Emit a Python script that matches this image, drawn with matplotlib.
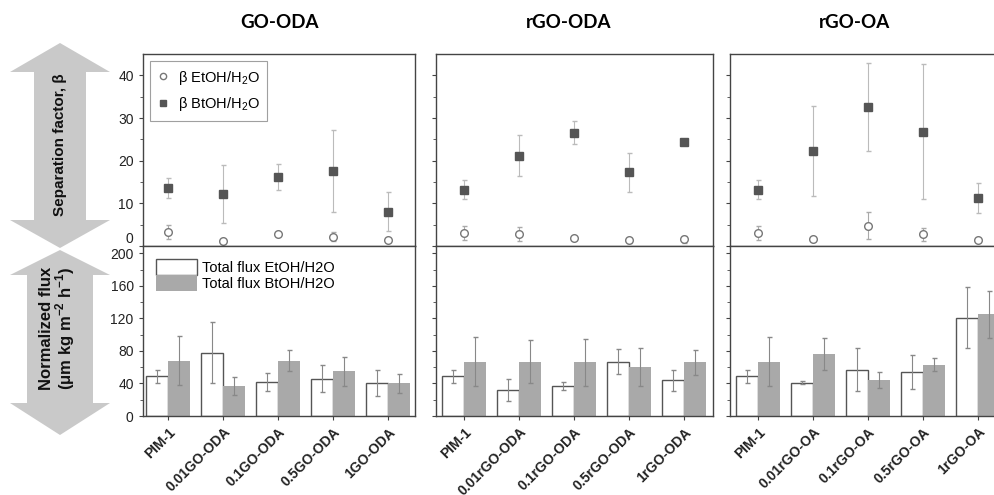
import numpy as np
import matplotlib.pyplot as plt
from matplotlib.patches import Polygon
from matplotlib.lines import Line2D

plt.rcParams['font.family'] = ['Liberation Sans', 'DejaVu Sans']
plt.rcParams['mathtext.fontset'] = 'custom'
plt.rcParams['mathtext.rm'] = 'Liberation Sans'
plt.rcParams['mathtext.bf'] = 'Liberation Sans:bold'

# Daten
titel = ['GO-ODA', 'rGO-ODA', 'rGO-OA']
proben = [['PIM-1', '0.01GO-ODA', '0.1GO-ODA', '0.5GO-ODA', '1GO-ODA'],
          ['PIM-1', '0.01rGO-ODA', '0.1rGO-ODA', '0.5rGO-ODA', '1rGO-ODA'],
          ['PIM-1', '0.01rGO-OA', '0.1rGO-OA', '0.5rGO-OA', '1rGO-OA']]

# Trennfaktor beta
beta_et = [[3.3, 1.2, 2.9, 2.2, 1.4], [3.0, 2.8, 1.9, 1.3, 1.6], [3.0, 1.6, 4.8, 2.7, 1.3]]
beta_et_err = [[1.6, 0.3, 0.4, 1.1, 0.4], [1.6, 1.6, 0.3, 0.6, 0.8], [1.6, 0.5, 3.2, 1.6, 0.3]]
beta_bt = [[13.6, 12.3, 16.2, 17.6, 8.0], [13.2, 21.2, 26.6, 17.3, 24.4], [13.2, 22.3, 32.6, 26.8, 11.3]]
beta_bt_err = [[2.3, 6.8, 3.0, 9.6, 4.6], [2.3, 4.8, 2.7, 4.6, 0.3], [2.3, 10.5, 10.3, 15.8, 3.5]]

# normierter Fluss
fluss_et = [[49, 78, 42, 46, 40], [49, 32, 37, 67, 44], [49, 41, 57, 54, 121]]
fluss_et_err = [[8, 38, 11, 17, 16], [8, 13, 5, 15, 13], [8, 2, 26, 21, 37]]
fluss_bt = [[68, 37, 68, 55, 40], [67, 67, 66, 60, 66], [67, 76, 44, 63, 125]]
fluss_bt_err = [[30, 11, 13, 18, 12], [30, 27, 29, 23, 15], [30, 20, 10, 8, 29]]

W, H = 995, 495
fig = plt.figure(figsize=(W / 100, H / 100), dpi=100)

# Pfeile links (in Pixelkoordinaten)
bg = fig.add_axes([0, 0, 1, 1], zorder=-1)
bg.set_xlim(0, W)
bg.set_ylim(H, 0)
bg.axis('off')
pfeil1 = [(60, 43), (10, 72), (34, 72), (34, 220), (10, 220), (60, 248),
          (110, 220), (86, 220), (86, 72), (110, 72)]
pfeil2 = [(60, 250), (10, 275), (27, 275), (27, 403), (10, 403), (60, 435),
          (110, 403), (93, 403), (93, 275), (110, 275)]
for p in (pfeil1, pfeil2):
    bg.add_patch(Polygon(p, closed=True, fc='#c9c9c9', ec='none'))
bg.text(60, 145, 'Separation factor, β', rotation=90, ha='center', va='center',
        fontsize=11, fontweight='bold', color='#111111')
bg.text(58, 328, 'Normalized flux\n(μm kg m$^{\\mathbf{-2}}$ h$^{\\mathbf{-1}}$)', rotation=90,
        ha='center', va='center', fontsize=12, fontweight='bold', color='#111111',
        linespacing=1.0)

links = [142.7, 436, 730]
breite = [272.3, 276.7, 275]
xlims = [(-0.46, 4.49), (-0.51, 4.52), (-0.51, 4.49)]
titel_x = [280, 569, 855]

x = np.arange(5)
kante = '#444444'

for i in range(3):
    ax_o = fig.add_axes([links[i] / W, (H - 246) / H, breite[i] / W, 192 / H])
    ax_u = fig.add_axes([links[i] / W, (H - 416) / H, breite[i] / W, 170 / H])

    # oben: Trennfaktor
    ax_o.errorbar(x, beta_et[i], yerr=beta_et_err[i], fmt='o', ms=5.5, mfc='white',
                  mec='#777777', mew=1.0, ecolor='#aaaaaa', elinewidth=0.8, capsize=1.8)
    ax_o.errorbar(x, beta_bt[i], yerr=beta_bt_err[i], fmt='s', ms=6, mfc='#555555',
                  mec='#555555', ecolor='#bbbbbb', elinewidth=0.8, capsize=1.8)
    ax_o.set_ylim(0, 45)
    ax_o.set_xlim(*xlims[i])
    ax_o.set_xticks([])
    ax_o.set_yticks([0, 10, 20, 30, 40])
    ax_o.set_yticks([5, 15, 25, 35], minor=True)

    # unten: Fluss
    ax_u.bar(x - 0.2, fluss_et[i], width=0.4, color='white', edgecolor='#555555', lw=1.0,
             label='Total flux EtOH/H2O')
    ax_u.bar(x + 0.2, fluss_bt[i], width=0.4, color='#a9a9a9', edgecolor='none',
             label='Total flux BtOH/H2O')
    ax_u.errorbar(x - 0.2, fluss_et[i], yerr=fluss_et_err[i], fmt='none', ecolor='#888888',
                  elinewidth=0.8, capsize=1.8)
    ax_u.errorbar(x + 0.2, fluss_bt[i], yerr=fluss_bt_err[i], fmt='none', ecolor='#888888',
                  elinewidth=0.8, capsize=1.8)
    ax_u.set_ylim(0, 209)
    ax_u.set_xlim(*xlims[i])
    ax_u.set_yticks([0, 40, 80, 120, 160, 200])
    ax_u.set_yticks([20, 60, 100, 140, 180], minor=True)
    ax_u.set_xticks(x)
    ax_u.set_xticklabels(proben[i], rotation=45, ha='right', rotation_mode='anchor',
                         fontsize=9.5, fontweight='bold')

    for ax in (ax_o, ax_u):
        for s in ax.spines.values():
            s.set_color(kante)
            s.set_linewidth(1.0)
        ax.tick_params(direction='out', length=3, width=0.8, color=kante, labelsize=10,
                       labelcolor='#222222')
        ax.tick_params(which='minor', direction='out', length=2, width=0.6, color=kante)
        if i > 0:
            ax.set_yticklabels([])

    if i == 0:
        ax_o.get_yticklabels()[0].set_verticalalignment('bottom')
        handles = [Line2D([], [], ls='none', marker='o', ms=4.5, mfc='white', mec='#777777'),
                   Line2D([], [], ls='none', marker='s', ms=4.5, mfc='#555555', mec='#555555')]
        leg = ax_o.legend(handles, ['β EtOH/H$_2$O', 'β BtOH/H$_2$O'], loc='upper left',
                          fontsize=10.5, handlelength=0.8, handletextpad=0.6, borderpad=0.5,
                          labelspacing=0.6, fancybox=False, edgecolor='#888888',
                          bbox_to_anchor=(0.0, 1.0))
        leg.get_frame().set_linewidth(0.8)
        ax_u.legend(loc='upper left', fontsize=10.5, frameon=False, handlelength=2.8,
                    handleheight=1.25, handletextpad=0.4, labelspacing=0.05,
                    bbox_to_anchor=(0.0, 1.0))

    fig.text(titel_x[i] / W, 1 - 23 / H, titel[i], ha='center', va='center',
             fontsize=13.5, fontweight='bold', family=['Lato', 'DejaVu Sans'])

fig.savefig('out.png', dpi=100)
